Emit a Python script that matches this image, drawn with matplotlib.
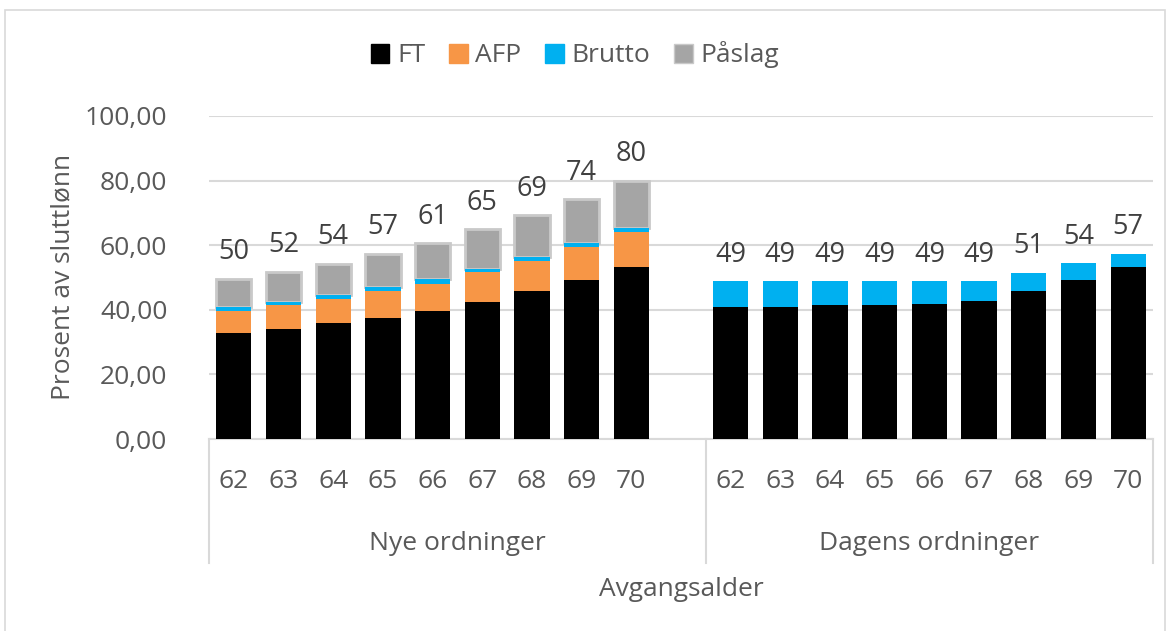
import matplotlib
matplotlib.use("Agg")
import matplotlib.pyplot as plt
from matplotlib.patches import Patch, Rectangle

# data (percent of final salary)
ages = ["62", "63", "64", "65", "66", "67", "68", "69", "70"]
groups = ["Nye ordninger", "Dagens ordninger"]

nye_ft = [32.7, 34.0, 35.8, 37.4, 39.7, 42.5, 45.7, 49.3, 53.3]
nye_afp = [7.0, 7.5, 7.5, 8.4, 8.4, 9.2, 9.5, 10.0, 10.7]
nye_brutto = [1.3, 1.0, 1.3, 1.2, 1.3, 0.8, 1.2, 1.3, 1.2]
nye_paslag = [8.6, 9.3, 9.7, 10.3, 11.2, 12.4, 12.9, 13.7, 14.8]

dag_ft = [41.0, 41.0, 41.4, 41.4, 41.8, 42.6, 45.8, 49.3, 53.3]
dag_brutto = [7.9, 7.9, 7.5, 7.5, 7.1, 6.3, 5.6, 5.1, 4.1]

colors = {"FT": "#000000", "AFP": "#f79646", "Brutto": "#00b0f0", "Påslag": "#a5a5a5"}
text_col = "#595959"
grid_col = "#d9d9d9"

plt.rcParams["font.family"] = ["Open Sans", "DejaVu Sans"]
fs = 19

fig = plt.figure(figsize=(11.7, 6.31), dpi=100)
ax = fig.add_axes([209 / 1170, 1 - 439 / 631, 944 / 1170, 323 / 631])

# outer chart border
fig.patches.append(Rectangle((5 / 1170, -0.01), 1160 / 1170, 1 - 10 / 631 + 0.01,
                             transform=fig.transFigure, fill=False,
                             edgecolor=grid_col, linewidth=1.2))

x_nye = list(range(len(ages)))
x_dag = [i + len(ages) + 1 for i in range(len(ages))]
w = 0.71

bottom = [0.0] * len(ages)
for name, vals in [("FT", nye_ft), ("AFP", nye_afp), ("Brutto", nye_brutto), ("Påslag", nye_paslag)]:
    if name == "Påslag":
        ax.bar(x_nye, vals, w, bottom=bottom, color=colors[name], edgecolor="#c9c9c9", linewidth=2, zorder=3)
    else:
        ax.bar(x_nye, vals, w, bottom=bottom, color=colors[name], zorder=4)
    bottom = [b + v for b, v in zip(bottom, vals)]
nye_tot = bottom

bottom = [0.0] * len(ages)
for name, vals in [("FT", dag_ft), ("Brutto", dag_brutto)]:
    ax.bar(x_dag, vals, w, bottom=bottom, color=colors[name], zorder=3)
    bottom = [b + v for b, v in zip(bottom, vals)]
dag_tot = bottom

for xs, tots in [(x_nye, nye_tot), (x_dag, dag_tot)]:
    for x, t in zip(xs, tots):
        ax.annotate(f"{t:.0f}", (x, t), xytext=(0, 9), textcoords="offset points",
                    ha="center", va="bottom", fontsize=fs + 0.5, color="#404040")

ax.set_xlim(-0.5, 2 * len(ages) + 0.5)
ax.set_ylim(0, 100)
ax.set_yticks(range(0, 101, 20))
ax.set_yticklabels([f"{v:.2f}".replace(".", ",") for v in range(0, 101, 20)])
ax.tick_params(axis="y", length=0, pad=30, labelsize=fs, labelcolor=text_col)
ax.set_xticks([])
ax.grid(axis="y", color=grid_col, linewidth=1.5, zorder=0)
ax.set_axisbelow(True)
for s in ["top", "right", "left"]:
    ax.spines[s].set_visible(False)
ax.spines["bottom"].set_color(grid_col)
ax.spines["bottom"].set_linewidth(1.5)

# category labels
tr = ax.get_xaxis_transform()
for xs in [x_nye, x_dag]:
    for x, a in zip(xs, ages):
        ax.text(x, -0.133, a, transform=tr, ha="center", va="center", fontsize=fs, color=text_col)
ax.text((x_nye[0] + x_nye[-1] + 1) / 2, -0.322, groups[0], transform=tr, ha="center",
        va="center", fontsize=fs, color=text_col)
ax.text((x_dag[0] + x_dag[-1]) / 2, -0.322, groups[1], transform=tr, ha="center",
        va="center", fontsize=fs, color=text_col)
for xv in [-0.5, len(ages) + 0.5, 2 * len(ages) + 0.5]:
    ax.plot([xv, xv], [0, -0.384], transform=tr, color=grid_col, linewidth=1.5, clip_on=False)

fig.text(681 / 1170, 1 - 590 / 631, "Avgangsalder", ha="center", va="center", fontsize=fs, color=text_col)
fig.text(63 / 1170, 1 - 277 / 631, "Prosent av sluttlønn", rotation=90, ha="center", va="center",
         fontsize=fs, color=text_col)

handles = [Patch(facecolor=c, edgecolor="#c9c9c9" if n == "Påslag" else c, label=n) for n, c in colors.items()]
fig.legend(handles=handles, loc="center", bbox_to_anchor=(575 / 1170, 1 - 55 / 631), ncol=4, frameon=False,
           fontsize=fs, handlelength=0.7, handleheight=0.7, handletextpad=0.3, columnspacing=0.9,
           labelcolor=text_col)

fig.savefig("out.png", dpi=100)
